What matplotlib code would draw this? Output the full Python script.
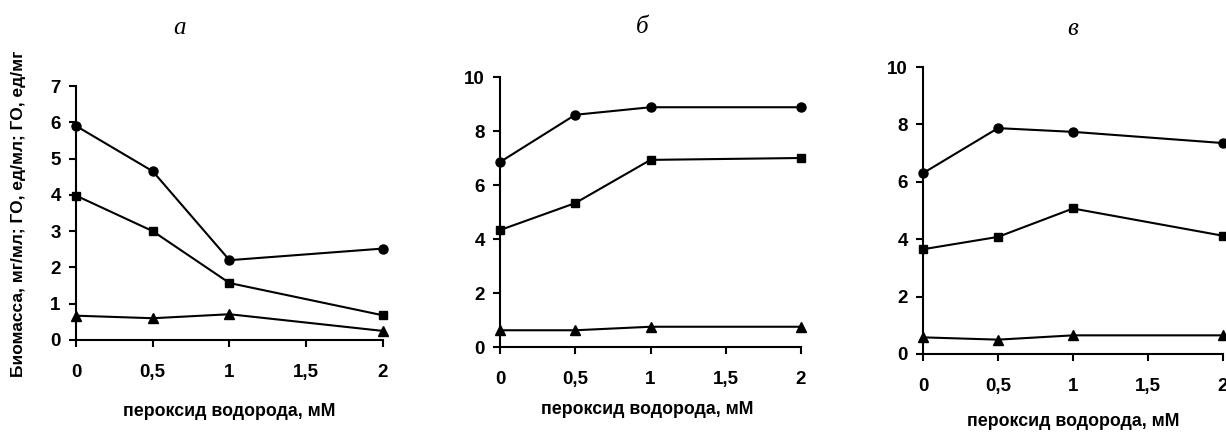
import matplotlib
matplotlib.use('Agg')
import matplotlib.pyplot as plt

# концентрация пероксида водорода, мМ
x = [0, 0.5, 1, 2]
x_ticks = [0, 0.5, 1, 1.5, 2]
x_tick_labels = ['0', '0,5', '1', '1,5', '2']

# панель а
a_circle = [5.9, 4.65, 2.2, 2.52]
a_square = [3.98, 3.0, 1.57, 0.68]
a_triangle = [0.67, 0.6, 0.71, 0.25]

# панель б
b_circle = [6.85, 8.6, 8.88, 8.88]
b_square = [4.33, 5.33, 6.93, 7.0]
b_triangle = [0.62, 0.62, 0.75, 0.75]

# панель в
c_circle = [6.3, 7.87, 7.74, 7.35]
c_square = [3.65, 4.08, 5.07, 4.12]
c_triangle = [0.58, 0.5, 0.65, 0.65]

panel_titles = ['а', 'б', 'в']
xlabel = 'пероксид водорода, мМ'
ylabel = 'Биомасса, мг/мл; ГО, ед/мл; ГО, ед/мг'

plt.rcParams['font.family'] = ['Liberation Sans', 'DejaVu Sans']
plt.rcParams['font.weight'] = 'bold'

fig = plt.figure(figsize=(12.26, 4.33), dpi=100)

W, H = 1226, 433
# axes boxes in pixels: left, right, y of zero, y of top
boxes = [(76, 383, 340, 86), (500, 801, 347, 77), (923, 1223, 354, 67)]
ymax = [7, 10, 10]
ystep = [1, 2, 2]
series = [(a_circle, a_square, a_triangle),
          (b_circle, b_square, b_triangle),
          (c_circle, c_square, c_triangle)]
title_pos = [(179, 28), (642, 27), (1073, 29)]
xlabel_pos = [(229, 411), (647, 409), (1073, 421)]

for i in range(3):
    l, r, y0, yt = boxes[i]
    ax = fig.add_axes([l / W, 1 - y0 / H, (r - l) / W, (y0 - yt) / H])
    circ, sq, tri = series[i]
    kw = dict(color='black', lw=1.5, clip_on=False, zorder=3)
    ax.plot(x, circ, marker='o', ms=6.5, **kw)
    ax.plot(x, sq, marker='s', ms=6, **kw)
    ax.plot(x, tri, marker='^', ms=7, **kw)
    ax.set_xlim(0, 2)
    ax.set_ylim(0, ymax[i])
    ax.set_xticks(x_ticks)
    ax.set_xticklabels(x_tick_labels)
    ax.set_yticks(range(0, ymax[i] + 1, ystep[i]))
    for s in ['top', 'right']:
        ax.spines[s].set_visible(False)
    for s in ['left', 'bottom']:
        ax.spines[s].set_linewidth(1.5)
    ax.tick_params(axis='both', direction='out', length=5, width=1.5,
                   labelsize=13.5)
    ax.tick_params(axis='x', pad=12)
    ax.tick_params(axis='y', pad=6)
    fig.text(title_pos[i][0] / W, 1 - title_pos[i][1] / H, panel_titles[i],
             family='Liberation Serif', style='italic', weight='normal',
             fontsize=18, ha='center', va='center')
    fig.text(xlabel_pos[i][0] / W, 1 - xlabel_pos[i][1] / H, xlabel,
             fontsize=12.8, ha='center', va='center')

fig.text(19 / W, 1 - 214 / H, ylabel, rotation=90, fontsize=12.5,
         ha='center', va='center')

fig.savefig('out.png', dpi=100)
